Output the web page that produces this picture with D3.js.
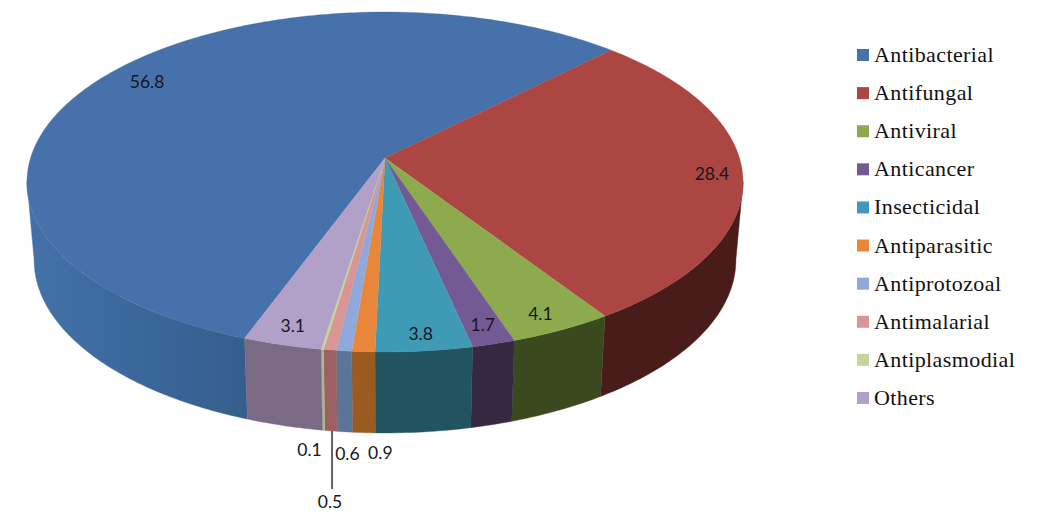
<!DOCTYPE html>
<html><head><meta charset="utf-8">
<script src="https://cdn.jsdelivr.net/npm/d3@7/dist/d3.min.js"></script>
<style>html,body{margin:0;padding:0;background:#fff}svg{display:block}</style>
</head><body><svg id="c" width="1050" height="523"></svg>
<script>
const categories=["Antibacterial","Antifungal","Antiviral","Anticancer","Insecticidal","Antiparasitic","Antiprotozoal","Antimalarial","Antiplasmodial","Others"];
const values=[56.8,28.4,4.1,1.7,3.8,0.9,0.6,0.5,0.1,3.1];
const valueLabels=["56.8","28.4","4.1","1.7","3.8","0.9","0.6","0.5","0.1","3.1"];
const topColors=["#4771ab","#ac4642","#8dab4e","#745a95","#3f9ab5","#e8873a","#8fa9dd","#da9694","#c3d69b","#b1a0c7"];
const sideColors=["#33608f","#4a1c19","#3a4a1e","#352840","#215360","#9a5a20","#5a7598","#9b605f","#a8b88a","#7a6a85"];
// label placement: on top face (r = radial fraction) or below the rim (r = null)
const labelR=[0.845,0.915,0.87,0.9,0.92,null,null,null,null,0.9];
const labelDx=[0,0,4.5,1.5,0,16.5,2.5,-1,-14,-1];
const labelDy=[-4,2,11,4,2,22,24,73,21,4];

const cx=385,cy=158,a=354.5,b=166.6,k=0.141;
const svg=d3.select("#c");
const rad=d=>d*Math.PI/180;
function proj(t,r){const u=r*Math.sin(t),v=-r*Math.cos(t),den=1-k*v;return [cx+a*u/den,cy+b*v/den];}
function projBottom(t,r){const p=proj(t,r);return [cx+(p[0]-cx)*0.98,260+(p[1]-182)*173/170];}

const start=200.1;
const pie=d3.pie().sort(null).startAngle(rad(start)).endAngle(rad(start+360));
const arcs=pie(values).map((d,i)=>({...d,i,mid:(d.startAngle+d.endAngle)/2}));
const line=d3.line().curve(d3.curveLinear);
const samples=(a0,a1)=>{const n=Math.max(1,Math.ceil((a1-a0)/rad(0.8)));return d3.range(n+1).map(j=>a0+(a1-a0)*j/n);};

// visible wall runs between the rim's rightmost and leftmost points
const sweep=d3.range(0,360,0.25).map(rad);
const tRight=sweep[d3.maxIndex(sweep,t=>proj(t,1)[0])];
const tLeft=sweep[d3.minIndex(sweep,t=>proj(t,1)[0])];

const defs=svg.append("defs");
const g=defs.append("linearGradient").attr("id","blueSide").attr("gradientUnits","userSpaceOnUse").attr("x1",27).attr("x2",247).attr("y1",0).attr("y2",0);
[[0,"#4472a8"],[0.4,"#3c6a9e"],[1,"#345e8c"]].forEach(s=>g.append("stop").attr("offset",s[0]).attr("stop-color",s[1]));

const sides=svg.append("g");
arcs.forEach(d=>{
  const wraps=[0,2*Math.PI];
  wraps.forEach(w=>{
    const a0=Math.max(d.startAngle-w,tRight),a1=Math.min(d.endAngle-w,tLeft);
    if(a1<=a0) return;
    const s=samples(a0,a1);
    const pts=s.map(t=>proj(t,1)).concat(s.slice().reverse().map(t=>projBottom(t,1)));
    const col=d.i===0?"url(#blueSide)":sideColors[d.i];
    sides.append("path").attr("d",line(pts)+"Z").attr("fill",col).attr("stroke",col).attr("stroke-width",0.4);
  });
});
const tops=svg.append("g");
arcs.forEach(d=>{
  const s=samples(d.startAngle,d.endAngle);
  const pts=[[cx,cy]].concat(s.map(t=>proj(t,1)));
  tops.append("path").attr("d",line(pts)+"Z").attr("fill",topColors[d.i]).attr("stroke",topColors[d.i]).attr("stroke-width",0.3);
});
const l5=projBottom(arcs[7].mid,1);
svg.append("line").attr("x1",l5[0]+1).attr("x2",l5[0]+1).attr("y1",l5[1]).attr("y2",l5[1]+58).attr("stroke","#222").attr("stroke-width",1.4);

svg.append("g").selectAll("text").data(arcs).join("text")
 .attr("x",d=>{const p=labelR[d.i]!==null?proj(d.mid,labelR[d.i]):projBottom(d.mid,1);return p[0]+labelDx[d.i];})
 .attr("y",d=>{const p=labelR[d.i]!==null?proj(d.mid,labelR[d.i]):projBottom(d.mid,1);return p[1]+labelDy[d.i];})
 .attr("text-anchor","middle").attr("dominant-baseline","middle")
 .attr("font-family","Lato, 'Open Sans', sans-serif").attr("font-size",17.5).attr("fill","#16161e")
 .text(d=>valueLabels[d.i]);

const ly=d3.scaleLinear().domain([0,9]).range([55,398]);
const leg=svg.append("g").selectAll("g").data(categories).join("g").attr("transform",(d,i)=>`translate(857,${ly(i)})`);
leg.append("rect").attr("x",0).attr("y",-6).attr("width",12).attr("height",12).attr("fill",(d,i)=>topColors[i]);
leg.append("text").attr("x",17).attr("y",7).attr("font-family","'Liberation Serif',serif").attr("font-size",22).attr("letter-spacing",0.4).attr("fill","#111").text(d=>d);
</script></body></html>
